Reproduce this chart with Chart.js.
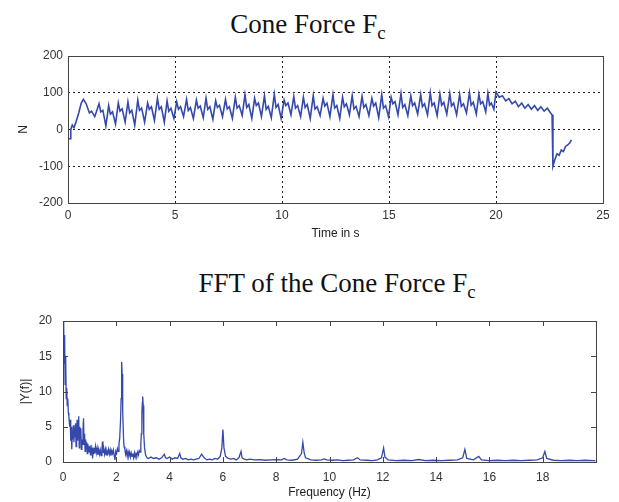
<!DOCTYPE html>
<html>
<head>
<meta charset="utf-8">
<script src="https://cdn.jsdelivr.net/npm/chart.js@4/dist/chart.umd.min.js"></script>
<style>
  body { margin:0; background:#fff; }
  #wrap { position:relative; width:619px; height:502px; overflow:hidden; }
  .ttl { position:absolute; font-family:"Liberation Serif","Times New Roman",serif; font-size:27px; line-height:27px; color:#111; white-space:nowrap; transform:translateX(-50%); }
  .ttl span { font-size:0.7em; position:relative; top:0.3em; }
  canvas { position:absolute; left:0; }
</style>
</head>
<body>
<div id="wrap">
  <div class="ttl" style="left:308px;top:11px">Cone Force F<span>c</span></div>
  <div class="ttl" style="left:337px;top:270px">FFT of the Cone Force F<span>c</span></div>
  <canvas id="force" width="619" height="205" style="top:40px"></canvas>
  <canvas id="fft" width="619" height="202" style="top:300px"></canvas>
</div>
<script>
// cone force over time
const timeS = [0, 0.12, 0.13, 0.2, 0.28, 0.36, 0.5, 0.62, 0.72, 0.85, 1.0, 1.1, 1.25,
  1.45, 1.53, 1.63, 1.77,  1.90, 1.98, 2.08, 2.22,  2.35, 2.43, 2.53, 2.67,
  2.80, 2.88, 2.98, 3.12,  3.26, 3.34, 3.44, 3.58,  3.72, 3.80, 3.90, 4.04,
  4.18, 4.26, 4.36, 4.50,  4.63, 4.71, 4.81, 4.95,  5.08, 5.16, 5.26, 5.40,
  5.54, 5.62, 5.72, 5.86,  6.00, 6.08, 6.18, 6.32,  6.45, 6.53, 6.63, 6.77,
  6.90, 6.98, 7.08, 7.22,  7.36, 7.44, 7.54, 7.68,  7.82, 7.90, 8.00, 8.14,
  8.27, 8.35, 8.45, 8.59,  8.72, 8.80, 8.90, 9.04,  9.18, 9.26, 9.36, 9.50,
  9.64, 9.72, 9.82, 9.96,  10.10, 10.18, 10.28, 10.42,  10.55, 10.63, 10.73, 10.87,
  11.00, 11.08, 11.18, 11.32,  11.46, 11.54, 11.64, 11.78,  11.92, 12.00, 12.10, 12.24,
  12.38, 12.46, 12.56, 12.70,  12.83, 12.91, 13.01, 13.15,  13.28, 13.36, 13.46, 13.60,
  13.74, 13.82, 13.92, 14.06,  14.20, 14.28, 14.38, 14.52,  14.66, 14.74, 14.84, 14.98,
  15.10, 15.18, 15.28, 15.42,  15.56, 15.64, 15.74, 15.88,  16.02, 16.10, 16.20, 16.34,
  16.48, 16.56, 16.66, 16.80,  16.93, 17.01, 17.11, 17.25,  17.38, 17.46, 17.56, 17.70,
  17.84, 17.92, 18.02, 18.16,  18.30, 18.38, 18.48, 18.62,  18.76, 18.84, 18.94, 19.08,
  19.20, 19.28, 19.38, 19.52,  19.62, 19.70, 19.78, 19.90,
  20.00, 20.15, 20.30, 20.45, 20.60, 20.75, 20.90, 21.05, 21.20,
  21.35, 21.50, 21.65, 21.80, 21.95, 22.10, 22.25, 22.40, 22.55, 22.62, 22.66, 22.75,
  22.85, 22.95, 23.05, 23.15, 23.25, 23.35, 23.45, 23.52];
const forceN = [-25, -25, 0, 12, 5, 18, 45, 72, 82, 70, 45, 50, 35,
  70, 48, 52, 10,  65, 42, 48, 15,  72, 50, 56, 20,
  75, 45, 52, 12,  80, 52, 58, 20,  72, 55, 62, 25,
  85, 55, 62, 20,  78, 50, 58, 30,  75, 55, 62, 35,
  82, 52, 60, 30,  80, 58, 64, 32,  85, 55, 62, 28,
  78, 60, 66, 35,  82, 56, 62, 30,  88, 58, 65, 38,
  95, 60, 68, 30,  85, 65, 72, 35,  92, 55, 63, 32,
  96, 60, 68, 30,  80, 65, 72, 40,  90, 58, 65, 35,
  88, 60, 68, 30,  92, 56, 62, 38,  85, 64, 72, 35,
  95, 58, 65, 30,  88, 62, 70, 40,  92, 56, 63, 35,
  90, 60, 68, 38,  85, 64, 72, 32,  95, 58, 65, 35,
  88, 70, 76, 40,  98, 60, 68, 38,  92, 65, 72, 42,
  95, 62, 70, 40,  100, 65, 72, 38,  96, 66, 74, 42,
  98, 64, 72, 40,  95, 63, 70, 45,  100, 66, 74, 42,
  96, 70, 76, 48,  98, 66, 72, 55,
  102, 88, 92, 78, 84, 70, 77, 62, 72,
  58, 68, 55, 65, 52, 62, 50, 58, 45, 40, -100, -82,
  -66, -70, -56, -60, -46, -42, -36, -28];

// single-sided spectrum |Y(f)|
const freqHz = [0, 0.02, 0.04, 0.06, 0.08, 0.1, 0.12, 0.14, 0.16, 0.18,
  0.2, 0.22, 0.25, 0.27, 0.29, 0.31, 0.33, 0.35, 0.37, 0.39,
  0.41, 0.43, 0.45, 0.47, 0.49, 0.51, 0.53, 0.55, 0.57, 0.59,
  0.61, 0.63, 0.65, 0.67, 0.69, 0.71, 0.73, 0.75, 0.77, 0.79,
  0.81, 0.83, 0.85, 0.87, 0.89, 0.91, 0.93, 0.95, 0.97, 0.99,
  1.01, 1.03, 1.05, 1.07, 1.09, 1.11, 1.13, 1.15, 1.17, 1.19,
  1.22, 1.25, 1.28, 1.31, 1.34, 1.37, 1.4, 1.43, 1.46, 1.48,
  1.5, 1.53, 1.56, 1.59, 1.62, 1.65, 1.68, 1.71, 1.74, 1.77,
  1.8, 1.83, 1.86, 1.89, 1.92, 1.95, 1.98, 2.01, 2.04, 2.07,
  2.1, 2.13, 2.16, 2.18, 2.2, 2.22, 2.23, 2.25, 2.27, 2.29,
  2.32, 2.35, 2.38, 2.41, 2.44, 2.47, 2.5, 2.53, 2.56, 2.59,
  2.62, 2.65, 2.68, 2.71, 2.74, 2.77, 2.8, 2.83, 2.86, 2.89,
  2.92, 2.94, 2.96, 2.98, 2.99, 3.01, 3.03, 3.06, 3.1, 3.15,
  3.2, 3.3, 3.4, 3.5, 3.6, 3.7, 3.8, 3.85, 3.9, 4.0,
  4.1, 4.2, 4.3, 4.38, 4.42, 4.5, 4.6, 4.7, 4.8, 4.9,
  5.0, 5.1, 5.2, 5.3, 5.4, 5.5, 5.6, 5.7, 5.8, 5.9,
  5.96, 6.0, 6.04, 6.1, 6.2, 6.3, 6.4, 6.5, 6.6, 6.68,
  6.72, 6.8, 6.9, 7.0, 7.2, 7.4, 7.6, 7.8, 8.0, 8.2,
  8.3, 8.4, 8.6, 8.8, 8.95, 9.0, 9.05, 9.1, 9.3, 9.5,
  9.7, 9.8, 9.9, 10.1, 10.3, 10.5, 10.7, 10.9, 11.05, 11.15,
  11.4, 11.6, 11.8, 11.95, 12.03, 12.08, 12.2, 12.5, 12.8, 13.1,
  13.35, 13.6, 13.9, 14.2, 14.5, 14.8, 15.0, 15.08, 15.15, 15.4,
  15.6, 15.7, 16.0, 16.3, 16.6, 16.9, 17.2, 17.5, 17.8, 18.0,
  18.08, 18.15, 18.4, 18.7, 19.0, 19.3, 19.6, 19.9, 19.98];
const ampY = [20, 22, 14, 18, 11, 15, 9, 10.5, 8, 9,
  7, 6.5, 5, 6, 3, 5, 1.8, 4.5, 3.2, 5.2,
  2.8, 4.8, 3.5, 5.5, 2.2, 4.2, 6, 3, 5, 6.5,
  2, 5, 3.5, 4.8, 1.8, 3.2, 2.5, 4.5, 6.2, 2.5,
  4, 1.5, 3.2, 2, 2.8, 1.2, 2.6, 1.5, 2.3, 1.4,
  2.2, 1, 2.4, 1.3, 2, 0.5, 1.6, 1.1, 2, 1.2,
  2.2, 1.3, 2, 1, 1.8, 1.1, 1.7, 0.9, 1.6, 2.9,
  1.3, 1.9, 1.1, 1.8, 1, 1.6, 1.2, 1.8, 1.1, 1.7,
  0.9, 1.6, 1.2, 1.7, 1, 0.3, 1.5, 1.2, 1.9, 1.5,
  2.5, 3.5, 6, 9, 14.2, 12.5, 7, 7.2, 3.5, 2.2,
  1.8, 1.1, 1.6, 0.8, 1.5, 0.9, 1.4, 0.7, 1.3, 0.8,
  1.2, 0.6, 1.3, 0.7, 1.2, 0.9, 1.4, 1, 1.6, 1.4,
  2.5, 4, 7, 8.5, 9.3, 8, 4, 2, 1, 0.6,
  0.5, 0.7, 0.5, 0.6, 0.4, 0.6, 1.1, 0.6, 0.5, 0.7,
  0.4, 0.6, 0.5, 1.2, 0.6, 0.4, 0.5, 0.3, 0.4, 0.3,
  0.4, 0.5, 1.1, 0.6, 0.3, 0.4, 0.3, 0.5, 0.4, 0.8,
  2, 4.6, 2, 0.8, 0.5, 0.4, 0.5, 0.3, 0.6, 1.5,
  0.6, 0.4, 0.3, 0.4, 0.3, 0.35, 0.25, 0.3, 0.35, 0.3,
  0.5, 0.3, 0.25, 0.4, 1.2, 2.8, 1.3, 0.6, 0.3, 0.25,
  0.3, 0.45, 0.3, 0.25, 0.3, 0.2, 0.25, 0.3, 0.6, 0.3,
  0.25, 0.2, 0.3, 0.6, 2, 0.7, 0.3, 0.2, 0.25, 0.2,
  0.35, 0.2, 0.25, 0.2, 0.25, 0.3, 0.6, 1.8, 0.5, 0.3,
  0.8, 0.3, 0.2, 0.25, 0.2, 0.25, 0.2, 0.25, 0.3, 0.6,
  1.5, 0.5, 0.25, 0.2, 0.25, 0.2, 0.25, 0.2, 0.15];

const forceTicks = [-200, -100, 0, 100, 200];
const lineBlue = '#3548ab';
const tickFont = { family: '"Liberation Sans", Arial, sans-serif', size: 12 };
const labelColor = '#333';

// box around the plot area, plus inward tick marks (matlab style)
const boxPlugin = {
  id: 'box',
  afterDraw(chart, args, opts) {
    const { ctx, chartArea: a, scales } = chart;
    ctx.save();
    ctx.strokeStyle = '#444';
    ctx.lineWidth = 1;
    if (opts.innerTicks) {
      const L = 5;
      ctx.beginPath();
      scales.x.ticks.forEach(t => {
        const px = Math.round(scales.x.getPixelForValue(t.value)) + 0.5;
        ctx.moveTo(px, a.bottom); ctx.lineTo(px, a.bottom - L);
        ctx.moveTo(px, a.top); ctx.lineTo(px, a.top + L);
      });
      scales.y.ticks.forEach(t => {
        const py = Math.round(scales.y.getPixelForValue(t.value)) + 0.5;
        ctx.moveTo(a.left, py); ctx.lineTo(a.left + L, py);
        ctx.moveTo(a.right, py); ctx.lineTo(a.right - L, py);
      });
      ctx.stroke();
    }
    ctx.strokeRect(Math.round(a.left) + 0.5, Math.round(a.top) + 0.5, Math.round(a.right - a.left), Math.round(a.bottom - a.top));
    ctx.restore();
  }
};

new Chart(document.getElementById('force'), {
  type: 'line',
  data: {
    datasets: [{ data: timeS.map((t, i) => ({ x: t, y: forceN[i] })), borderColor: lineBlue, borderWidth: 1.6, pointRadius: 0, tension: 0 }]
  },
  options: {
    responsive: false, animation: false,
    layout: { padding: { left: 0, right: 16, top: 16, bottom: 0 } },
    plugins: { legend: { display: false }, tooltip: { enabled: false }, box: { innerTicks: false } },
    scales: {
      x: {
        type: 'linear', min: 0, max: 25,
        ticks: { stepSize: 5, font: tickFont, color: labelColor, padding: 5, maxRotation: 0 },
        grid: { color: '#222', drawTicks: false },
        border: { display: false, dash: [2, 3] },
        title: { display: true, text: 'Time in s', font: tickFont, color: '#222', padding: { top: 0, bottom: 4 } },
        afterFit: s => { s.height = 42; }
      },
      y: {
        min: -200, max: 200,
        afterBuildTicks: s => { s.ticks = forceTicks.map(v => ({ value: v })); },
        ticks: { font: tickFont, color: labelColor, padding: 5 },
        grid: { color: '#222', drawTicks: false },
        border: { display: false, dash: [2, 3] },
        title: { display: true, text: 'N', font: tickFont, color: '#222', padding: { top: 16, bottom: 0 } },
        afterFit: s => { s.width = 68; }
      }
    }
  },
  plugins: [boxPlugin]
});

new Chart(document.getElementById('fft'), {
  type: 'line',
  data: {
    datasets: [{ data: freqHz.map((f, i) => ({ x: f, y: ampY[i] })), borderColor: lineBlue, borderWidth: 1.3, pointRadius: 0, tension: 0 }]
  },
  options: {
    responsive: false, animation: false,
    layout: { padding: { left: 0, right: 23, top: 21, bottom: 0 } },
    plugins: { legend: { display: false }, tooltip: { enabled: false }, box: { innerTicks: true } },
    scales: {
      x: {
        type: 'linear', min: 0, max: 20,
        ticks: { stepSize: 2, font: tickFont, color: labelColor, padding: 0, maxRotation: 0, callback: v => v === 20 ? '' : v },
        grid: { display: false },
        border: { display: false },
        title: { display: true, text: 'Frequency (Hz)', font: tickFont, color: '#222', padding: { top: 0, bottom: 2 } },
        afterFit: s => { s.height = 40; }
      },
      y: {
        min: 0, max: 20,
        ticks: { stepSize: 5, font: tickFont, color: labelColor, padding: 3 },
        grid: { display: false },
        border: { display: false },
        title: { display: true, text: '|Y(f)|', font: tickFont, color: '#222', padding: { top: 18, bottom: 0 } },
        afterFit: s => { s.width = 63; }
      }
    }
  },
  plugins: [boxPlugin]
});
</script>
</body>
</html>
